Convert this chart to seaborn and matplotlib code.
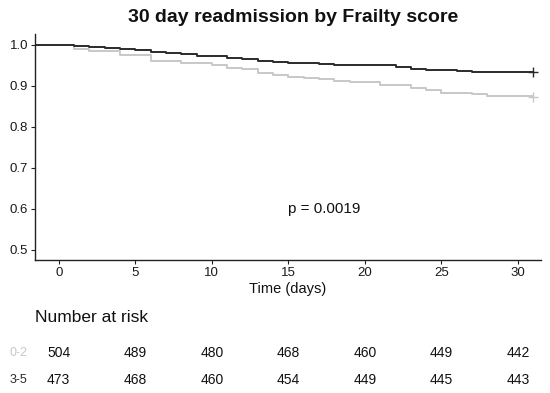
import numpy as np
import pandas as pd
import matplotlib
matplotlib.use("Agg")
import matplotlib.pyplot as plt
import matplotlib.transforms as mtransforms
import seaborn as sns

# ---- data ----
groups = ["0-2", "3-5"]
colors = {"0-2": "#c8c8c8", "3-5": "#2b2b2b"}

time_02 = [-1.55, 1, 2, 4, 6, 8, 10, 11, 12, 13, 14, 15, 16, 17, 18, 19, 21, 23, 24, 25, 27, 28, 31]
surv_02 = [1.0, 0.990, 0.985, 0.976, 0.960, 0.955, 0.950, 0.945, 0.941, 0.931, 0.927, 0.923, 0.919,
           0.916, 0.912, 0.910, 0.902, 0.896, 0.890, 0.884, 0.881, 0.875, 0.874]

time_35 = [-1.55, 1, 2, 3, 4, 5, 6, 7, 8, 9, 11, 12, 13, 14, 15, 17, 18, 19, 22, 23, 24, 26, 27, 30, 31]
surv_35 = [1.0, 0.998, 0.995, 0.992, 0.9895, 0.987, 0.984, 0.981, 0.978, 0.974, 0.969, 0.965, 0.962,
           0.959, 0.957, 0.954, 0.952, 0.950, 0.946, 0.942, 0.939, 0.937, 0.935, 0.933, 0.933]

risk_times = [0, 5, 10, 15, 20, 25, 30]
risk_02 = [504, 489, 480, 468, 460, 449, 442]
risk_35 = [473, 468, 460, 454, 449, 445, 443]

x_ticks = [0, 5, 10, 15, 20, 25, 30]
y_ticks = [0.5, 0.6, 0.7, 0.8, 0.9, 1.0]

title = "30 day readmission by Frailty score"
xlabel = "Time (days)"
pval_text = "p = 0.0019"

df = pd.concat([
    pd.DataFrame({"time": time_02, "surv": surv_02, "group": "0-2"}),
    pd.DataFrame({"time": time_35, "surv": surv_35, "group": "3-5"}),
], ignore_index=True)

sns.set_theme(style="white")
plt.rcParams["font.family"] = ["Liberation Sans", "DejaVu Sans"]

fig = plt.figure(figsize=(5.5, 3.93), dpi=100)
W, H = 550, 393
L, R, T, B = 35, 541, 34, 260
ax = fig.add_axes([L / W, 1 - B / H, (R - L) / W, (B - T) / H])

sns.lineplot(data=df, x="time", y="surv", hue="group", palette=colors,
             estimator=None, sort=False, drawstyle="steps-post",
             linewidth=1.4, legend=False, ax=ax)

# censor marks at end
for g, t, s in [("0-2", time_02, surv_02), ("3-5", time_35, surv_35)]:
    ax.plot([t[-1]], [s[-1]], marker="+", markersize=7, mew=1.0,
            color=colors[g], linestyle="none")

ax.set_xlim(-1.55, 31.5)
ax.set_ylim(0.4755, 1.0268)
ax.set_xticks(x_ticks)
ax.set_yticks(y_ticks)
ax.set_yticklabels([f"{v:.1f}" for v in y_ticks])
ax.tick_params(axis="both", which="both", length=3, width=0.8, color="#222222",
               labelsize=9.5, labelcolor="#1a1a1a", pad=2, left=True, bottom=True)
for side in ["top", "right"]:
    ax.spines[side].set_visible(False)
for side in ["left", "bottom"]:
    ax.spines[side].set_color("#222222")
    ax.spines[side].set_linewidth(1.0)
ax.set_xlabel(xlabel, fontsize=10.5, color="#111111", labelpad=2)
ax.set_ylabel("")

ax.text(15, 0.6, pval_text, fontsize=11, ha="left", va="center", color="#111111")

fig.text(293 / W, 1 - 17 / H, title, fontsize=14, fontweight="bold",
         ha="center", va="center", color="#111111")

# number at risk table
fig.text(35 / W, 1 - 318 / H, "Number at risk", fontsize=12.5, ha="left",
         va="center", color="#111111")
trans = mtransforms.blended_transform_factory(ax.transData, fig.transFigure)
for g, vals, yp in [("0-2", risk_02, 353), ("3-5", risk_35, 380)]:
    fig.text(10 / W, 1 - yp / H, g, fontsize=9, ha="left", va="center",
             color=colors[g])
    for t, v in zip(risk_times, vals):
        ax.text(t, 1 - yp / H, str(v), transform=trans, fontsize=10,
                ha="center", va="center", color="#111111", clip_on=False)

fig.savefig("out.png", dpi=100)
